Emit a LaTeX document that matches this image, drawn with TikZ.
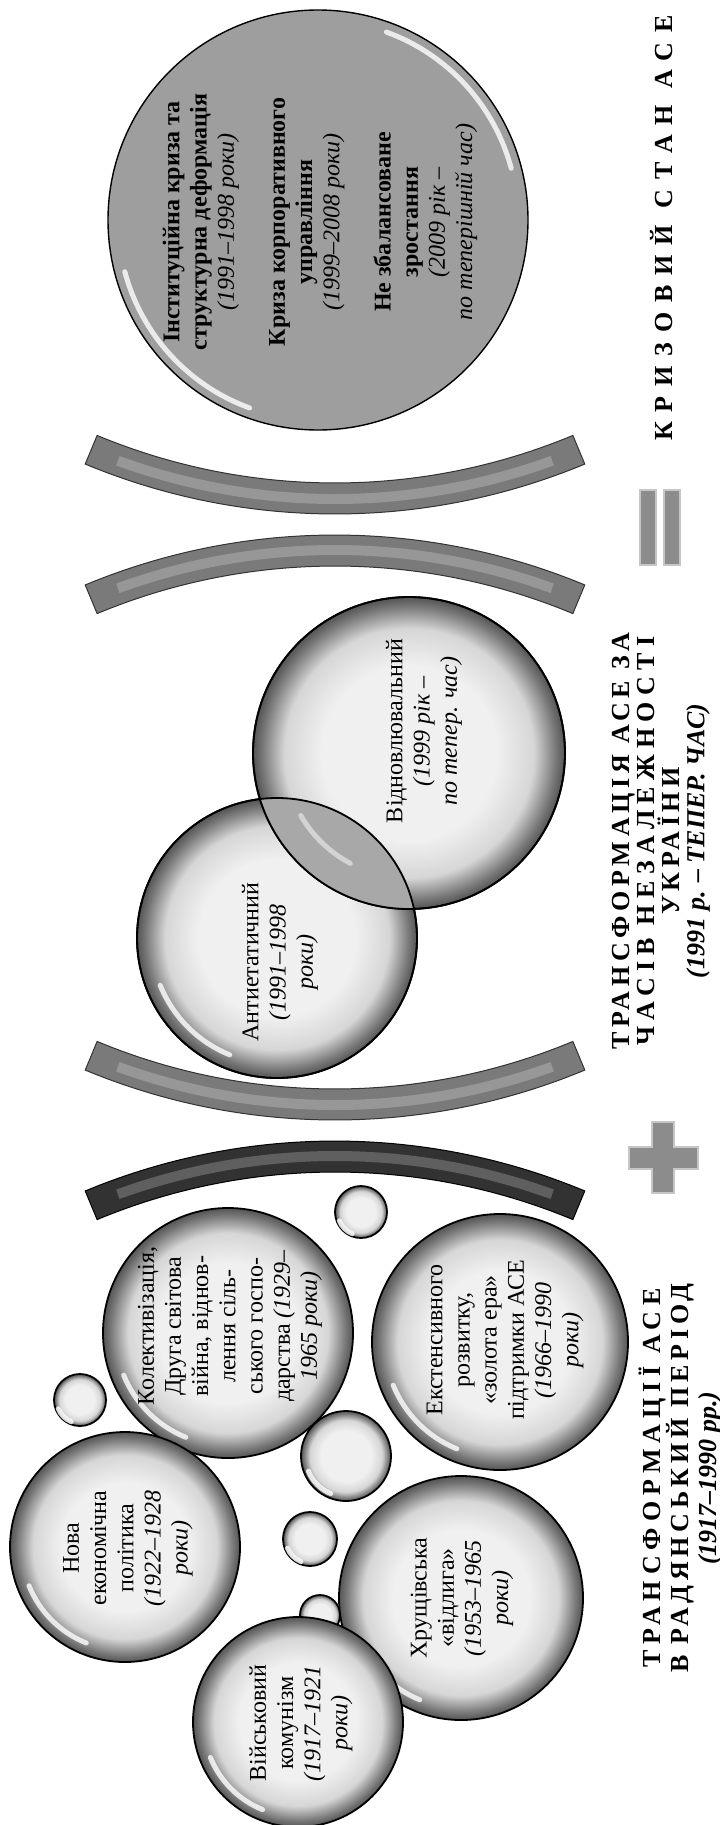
\documentclass[tikz,border=0pt]{standalone}
\usepackage{fontspec}
\setmainfont{Liberation Serif}

\definecolor{bubin}{RGB}{240,240,240}
\definecolor{bubmid}{RGB}{214,214,214}
\definecolor{bubrim}{RGB}{120,120,120}
\definecolor{crisgray}{RGB}{158,158,158}
\definecolor{lensgray}{RGB}{168,168,168}
\definecolor{arcgray}{RGB}{122,122,122}
\definecolor{arcdark}{RGB}{50,50,50}
\definecolor{signgray}{RGB}{140,140,140}

\pgfdeclareradialshading{bubshade}{\pgfpoint{0bp}{0bp}}{color(0bp)=(bubin); color(14bp)=(bubin); color(20bp)=(bubmid); color(23.5bp)=(bubrim); color(25bp)=(bubrim!70!black); color(50bp)=(bubrim!70!black)}

\tikzset{
  px/.style={x=0.5pt,y=-0.5pt},
  bubble/.style={shading=bubshade,draw=black,line width=0.9pt},
  crisis/.style={fill=crisgray,draw=black,line width=0.7pt},
  gloss/.style={white,line width=2.5pt,line cap=round,opacity=0.8},
  btext/.style={rotate=90,align=center,font=\fontsize{12}{13.6}\selectfont},
  ttext/.style={rotate=90,align=center,font=\fontsize{13}{14}\selectfont\bfseries},
  darkbr/.style={fill=arcdark,draw=black,line width=0.5pt},
  graybr/.style={fill=arcgray,draw=black!80,line width=0.5pt},
  shine/.style={white,opacity=0.22,line width=5pt},
  sign/.style={fill=signgray,draw=gray!45,line width=1.2pt}
}

\newcommand\spc[2][18]{{\addfontfeatures{LetterSpace=#1}#2}}
\newcommand\bub[3]{%
  \shadedraw[bubble] (#1,#2) circle (#3);
  \draw[gloss] ([shift={(112:#3*0.9)}]#1,#2) arc[start angle=112,end angle=158,radius=#3*0.9];}
\newcommand\bracketarc[4]{%
  \filldraw[#4] ([shift={(#3-22.6:650)}]#1,#2) arc[start angle=#3-22.6,end angle=#3+22.6,radius=650]
    -- ([shift={(#3+22.6:619)}]#1,#2) arc[start angle=#3+22.6,end angle=#3-22.6,radius=619] -- cycle;
  \draw[shine] ([shift={(#3-20:635)}]#1,#2) arc[start angle=#3-20,end angle=#3+20,radius=635];}

\begin{document}
\begin{tikzpicture}[px]
  \useasboundingbox (0,0) rectangle (719,1825);

  \bracketarc{335}{1791}{270}{darkbr}
  \bracketarc{335}{470}{90}{graybr}
  \bracketarc{335}{1185}{270}{graybr}
  \bracketarc{335}{-136}{90}{graybr}

  \filldraw[sign] (652,1122) -- (674,1122) -- (674,1147) -- (698,1147) -- (698,1169) -- (674,1169)
    -- (674,1193) -- (652,1193) -- (652,1169) -- (629,1169) -- (629,1147) -- (652,1147) -- cycle;
  \filldraw[sign] (640,490) rectangle (656,565);
  \filldraw[sign] (664,490) rectangle (680,565);

  \bub{361}{1212}{26}
  \bub{80}{1400}{26}
  \bub{346}{1456}{45}
  \bub{310}{1539}{27}
  \bub{320}{1615}{20}
  \bub{228}{1333}{125}
  \bub{500}{1342}{128}
  \bub{125}{1547}{115}
  \bub{461}{1598}{122}
  \bub{298}{1722}{105}

  \bub{277}{938}{140}
  \bub{409}{753}{156}
  \begin{scope}
    \clip (277,938) circle (140);
    \fill[lensgray] (409,753) circle (156);
    \draw[gloss,opacity=0.5] ([shift={(118:125)}]409,753) arc[start angle=118,end angle=150,radius=125];
  \end{scope}
  \draw[line width=0.9pt] (277,938) circle (140) (409,753) circle (156);

  \filldraw[crisis] (318,220) circle (210);
  \draw[gloss] ([shift={(110:200)}]318,220) arc[start angle=110,end angle=165,radius=200];
  \draw[gloss] ([shift={(290:200)}]318,220) arc[start angle=290,end angle=345,radius=200];

  \node[btext] (war) at (301,1723) {Військовий\\комунізм\\\textit{(1917--1921}\\\textit{роки)}};
  \node[btext] (nep) at (128,1548) {Нова\\економічна\\політика\\\textit{(1922--1928}\\\textit{роки)}};
  \node[btext] (coll) at (230,1326) {Колективізація,\\Друга світова\\війна, віднов-\\лення сіль-\\ського госпо-\\дарства \textit{(1929--}\\\textit{1965 роки)}};
  \node[btext] (ext) at (505,1340) {Екстенсивного\\розвитку,\\«золота ера»\\підтримки АСЕ\\\textit{(1966--1990}\\\textit{роки)}};
  \node[btext] (khr) at (462,1598) {Хрущівська\\«відлига»\\\textit{(1953--1965}\\\textit{роки)}};
  \node[btext] (anti) at (280,962) {Антиетатичний\\\textit{(1991--1998}\\\textit{роки)}};
  \node[btext] (vidn) at (424,731) {Відновлювальний\\\textit{(1999 рік --}\\\textit{по тепер. час)}};
  \node[btext] (cris) at (320,222) {\textbf{Інституційна криза та}\\\textbf{структурна деформація}\\\textit{(1991--1998 роки)}\\[12pt]
    \textbf{Криза корпоративного}\\\textbf{управління}\\\textit{(1999--2008 роки)}\\[12pt]
    \textbf{Не збалансоване}\\\textbf{зростання}\\\textit{(2009 рік --}\\\textit{по теперішній час)}};

  \node[ttext] (tsov) at (680,1478) {\spc[23]{ТРАНСФОРМАЦІЇ АСЕ}\\\spc{В РАДЯНСЬКИЙ ПЕРІОД}\\\textit{(1917--1990 рр.)}};
  \node[ttext,font=\fontsize{13}{12.5}\selectfont\bfseries] (tind) at (661,841) {\spc{ТРАНСФОРМАЦІЯ АСЕ ЗА}\\\spc[24]{ЧАСІВ НЕЗАЛЕЖНОСТІ}\\\spc{УКРАЇНИ}\\\textit{(1991 р. -- ТЕПЕР. ЧАС)}};
  \node[ttext] (tcri) at (662,228) {\spc[38]{КРИЗОВИЙ СТАН АСЕ}};
\end{tikzpicture}
\end{document}
